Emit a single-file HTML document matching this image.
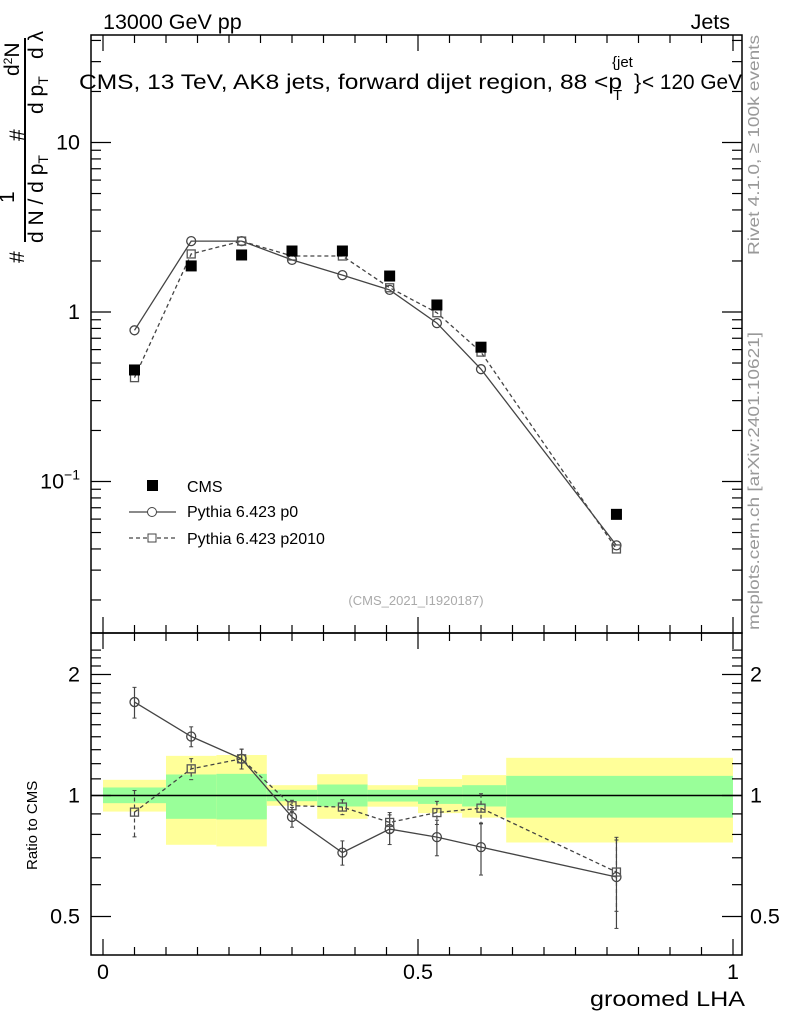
<!DOCTYPE html>
<html><head><meta charset="utf-8"><style>
body{margin:0;background:#fff;width:786px;height:1024px;overflow:hidden}
svg{font-family:"Liberation Sans",sans-serif}
</style></head><body>
<svg id="c" width="786" height="1024" viewBox="0 0 786 1024" xmlns="http://www.w3.org/2000/svg">
<g id="bands"></g>
<g id="axes"></g>
<g id="series"></g>
<text x="103" y="29" font-size="21.5">13000 GeV pp</text>
<text x="730" y="29" font-size="21.5" text-anchor="end">Jets</text>
<g font-size="21.5">
<text x="79" y="89" textLength="543" lengthAdjust="spacingAndGlyphs">CMS, 13 TeV, AK8 jets, forward dijet region, 88 &lt;p</text>
<text x="612" y="67" font-size="15">{jet</text>
<text x="634" y="89" font-size="21.5">}</text>
<text x="613" y="100" font-size="15">T</text>
<text x="642" y="89" textLength="100" lengthAdjust="spacingAndGlyphs">&lt; 120 GeV</text>
</g>
<text x="416" y="605" font-size="13" fill="#aaa" text-anchor="middle">(CMS_2021_I1920187)</text>
<text transform="translate(759,255) rotate(-90)" font-size="16" fill="#999" textLength="220" lengthAdjust="spacingAndGlyphs">Rivet 4.1.0, ≥ 100k events</text>
<text transform="translate(759,630) rotate(-90)" font-size="16" fill="#999" textLength="298" lengthAdjust="spacingAndGlyphs">mcplots.cern.ch [arXiv:2401.10621]</text>
<g font-size="21">
<line x1="25" y1="38" x2="25" y2="242" stroke="#000" stroke-width="2"/>
<text transform="translate(24,263) rotate(-90)">#</text>
<text transform="translate(14,203) rotate(-90)">1</text>
<text transform="translate(43,243) rotate(-90)">d N / d p<tspan font-size="14" dy="5">T</tspan></text>
<text transform="translate(24,141) rotate(-90)">#</text>
<text transform="translate(43,114) rotate(-90)">d p<tspan font-size="14" dy="5">T</tspan></text>
<text transform="translate(43,59) rotate(-90)">d λ</text>
<text transform="translate(19,76) rotate(-90)">d<tspan font-size="12" dy="-7">2</tspan><tspan dy="7">N</tspan></text>
</g>
<text transform="translate(37,870) rotate(-90)" font-size="15">Ratio to CMS</text>
<text x="590" y="1006" font-size="21.5" textLength="155" lengthAdjust="spacingAndGlyphs">groomed LHA</text>
<g font-size="16">
<g><rect x="147" y="480" width="11" height="11" fill="#000"/><text x="187" y="492">CMS</text></g>
<g><line x1="129" y1="512" x2="176" y2="512" stroke="#444" stroke-width="1.3"/><circle cx="152" cy="512" r="4.5" fill="#fff" stroke="#444"/><text x="187" y="517">Pythia 6.423 p0</text></g>
<g><line x1="129" y1="538" x2="176" y2="538" stroke="#444" stroke-width="1.3" stroke-dasharray="4,3"/><rect x="148" y="534" width="8" height="8" fill="#fff" stroke="#444"/><text x="187" y="544">Pythia 6.423 p2010</text></g>
</g>
</svg>
<script>
const binEdges=[0,0.1,0.18,0.26,0.34,0.42,0.5,0.57,0.64,1.0];
const xCenters=[0.05,0.14,0.22,0.30,0.38,0.455,0.53,0.60,0.815];
const cmsVals=[0.455,1.87,2.17,2.29,2.29,1.63,1.10,0.62,0.064];
const p0Vals=[0.78,2.62,2.62,2.03,1.65,1.35,0.86,0.46,0.042];
const p2010Vals=[0.41,2.2,2.62,2.14,2.14,1.39,0.99,0.58,0.040];
const p0Ratio=[1.708,1.402,1.234,0.884,0.721,0.825,0.788,0.744,0.627];
const p0RatioErr=[0.15,0.08,0.07,0.05,0.05,0.07,0.08,0.11,0.16];
const p2010Ratio=[0.909,1.165,1.234,0.943,0.936,0.857,0.907,0.930,0.645];
const p2010RatioErr=[0.12,0.07,0.07,0.03,0.04,0.05,0.06,0.08,0.13];
const yellowHi=[1.094,1.255,1.261,1.061,1.130,1.061,1.099,1.124,1.241];
const yellowLo=[0.912,0.754,0.747,0.943,0.875,0.938,0.904,0.881,0.764];
const greenHi=[1.047,1.128,1.132,1.033,1.065,1.033,1.051,1.061,1.119];
const greenLo=[0.957,0.875,0.872,0.968,0.939,0.966,0.953,0.939,0.881];
const xTicks=[0,0.5,1];
const yTicks=[0.1,1,10];
const rTicks=[0.5,1,2];

const NS="http://www.w3.org/2000/svg";
const L=91,R=742,T=35,MID=633,B=955;
const X=v=>103+630*v;
const Y=v=>312-169.5*Math.log10(v);
const RY=v=>795.5-121*Math.log2(v);
function mk(tag,attrs,parent){const e=document.createElementNS(NS,tag);for(const k in attrs)e.setAttribute(k,attrs[k]);parent.appendChild(e);return e;}
const axes=document.getElementById('axes'),bands=document.getElementById('bands'),series=document.getElementById('series');

for(let i=0;i<9;i++){
  const x0=X(binEdges[i]),x1=X(binEdges[i+1]);
  const y=mk('rect',{x:x0,y:RY(yellowHi[i]),width:x1-x0,height:RY(yellowLo[i])-RY(yellowHi[i]),fill:'#ffff99'},bands);
  
  
  const g=mk('rect',{x:x0,y:RY(greenHi[i]),width:x1-x0,height:RY(greenLo[i])-RY(greenHi[i]),fill:'#99ff99'},bands);
  
  
}
mk('line',{x1:L,x2:R,y1:RY(1),y2:RY(1),stroke:'#000','stroke-width':1.5},bands);

mk('rect',{x:L,y:T,width:R-L,height:MID-T,fill:'none',stroke:'#000','stroke-width':1.5},axes);
mk('rect',{x:L,y:MID,width:R-L,height:B-MID,fill:'none',stroke:'#000','stroke-width':1.5},axes);
for(let v=0;v<=1.0001;v+=0.05){
  const maj=Math.abs(v*2-Math.round(v*2))<1e-6, len=maj?16:8;
  const x=X(v);
  [[T,T+len],[MID,MID-len],[MID,MID+len],[B,B-len]].forEach(p=>mk('line',{x1:x,x2:x,y1:p[0],y2:p[1],stroke:'#000','stroke-width':1.2},axes));
}
xTicks.forEach(v=>{const t=mk('text',{x:X(v),y:979,'font-size':21.5,'text-anchor':'middle'},axes);t.textContent=String(v);

});
for(let d=-2;d<=1;d++)for(let m=1;m<10;m++){
  const v=m*Math.pow(10,d),y=Y(v); if(y<T||y>MID)continue;
  const len=m===1?20:10;
  mk('line',{x1:L,x2:L+len,y1:y,y2:y,stroke:'#000','stroke-width':1.2},axes);
  mk('line',{x1:R,x2:R-len,y1:y,y2:y,stroke:'#000','stroke-width':1.2},axes);
}
yTicks.forEach(v=>{const t=mk('text',{x:80,y:Y(v)+7,'font-size':21.5,'text-anchor':'end'},axes);
 if(v===0.1){t.innerHTML='10<tspan font-size="14" dy="-9">−1</tspan>';}else t.textContent=String(v);
 
 });
for(let v=0.5;v<=2.31;v+=0.1){const y=RY(v);if(y<MID||y>B)continue;
 const maj=[0.5,1,2].some(q=>Math.abs(q-v)<1e-6),len=maj?20:10;
 mk('line',{x1:L,x2:L+len,y1:y,y2:y,stroke:'#000','stroke-width':1.2},axes);
 mk('line',{x1:R,x2:R-len,y1:y,y2:y,stroke:'#000','stroke-width':1.2},axes);}
rTicks.forEach(v=>{[[80,'end'],[750,'start']].forEach(p=>{const t=mk('text',{x:p[0],y:RY(v)+7,'font-size':21.5,'text-anchor':p[1]},axes);t.textContent=String(v);
 
 });});

function line(vals,yf,dash,name){const pts=vals.map((v,i)=>X(xCenters[i])+','+yf(v)).join(' ');
 const p=mk('polyline',{points:pts,fill:'none',stroke:'#444','stroke-width':1.3},series);
 if(dash)p.setAttribute('stroke-dasharray','4,3');
 
 }
function errs(vals,err,yf,dash){vals.forEach((v,i)=>{const x=X(xCenters[i]);const a=yf(v+err[i]),b=yf(v-err[i]);
 const l=mk('line',{x1:x,x2:x,y1:a,y2:b,stroke:'#444','stroke-width':1.2},series);if(dash)l.setAttribute('stroke-dasharray','4,3');
 mk('line',{x1:x-2,x2:x+2,y1:a,y2:a,stroke:'#444'},series);mk('line',{x1:x-2,x2:x+2,y1:b,y2:b,stroke:'#444'},series);});}
function circles(vals,yf,name){vals.forEach((v,i)=>{const c=mk('circle',{cx:X(xCenters[i]),cy:yf(v),r:4.5,fill:'none',stroke:'#444','stroke-width':1.3},series);
 
 });}
function squares(vals,yf,name){vals.forEach((v,i)=>{const s=mk('rect',{x:X(xCenters[i])-4,y:yf(v)-4,width:8,height:8,fill:'none',stroke:'#555','stroke-width':1.3},series);
 
 });}

line(p0Vals,Y,false,'p0-line');line(p2010Vals,Y,true,'p2010-line');
circles(p0Vals,Y,'p0-point');squares(p2010Vals,Y,'p2010-point');
cmsVals.forEach((v,i)=>{const s=mk('rect',{x:X(xCenters[i])-5.5,y:Y(v)-5.5,width:11,height:11,fill:'#000'},series);
 
 });
errs(p0Ratio,p0RatioErr,RY,false);errs(p2010Ratio,p2010RatioErr,RY,true);
line(p0Ratio,RY,false,'p0-ratio-line');line(p2010Ratio,RY,true,'p2010-ratio-line');
circles(p0Ratio,RY,'p0-ratio-point');squares(p2010Ratio,RY,'p2010-ratio-point');
</script>
</body></html>
